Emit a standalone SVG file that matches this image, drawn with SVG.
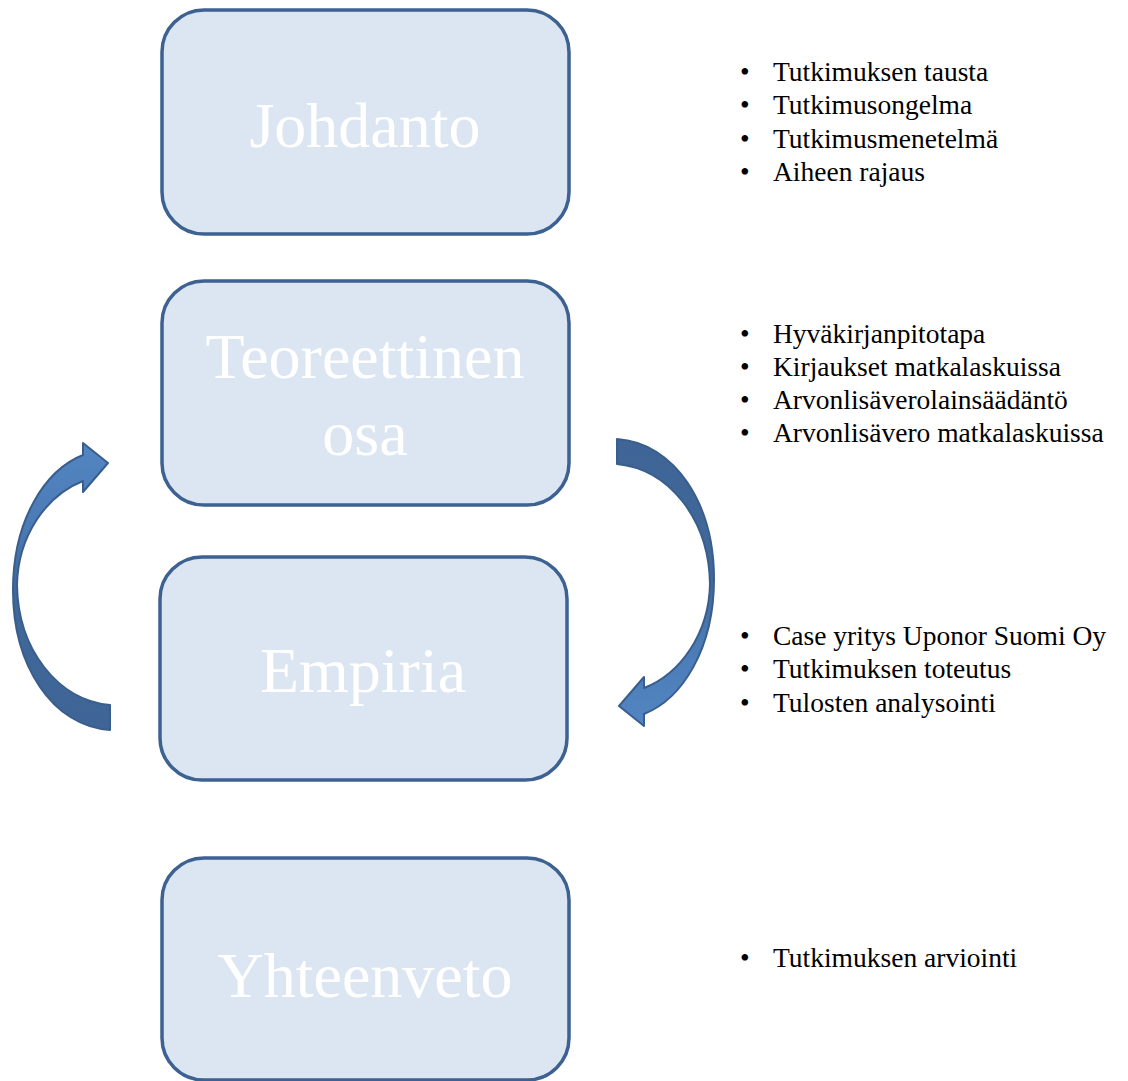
<svg xmlns="http://www.w3.org/2000/svg" width="1128" height="1081" viewBox="0 0 1128 1081">
<defs>
<style>
.box rect{fill:#dce6f2;stroke:#3d6191;stroke-width:3.5}
.title{font-family:"Liberation Serif","Times New Roman",serif;font-size:64px;fill:#ffffff;text-anchor:middle}
.bul{font-family:"Liberation Serif","Times New Roman",serif;font-size:27.5px;fill:#000000}
.arrow{fill:url(#ag);stroke:#3a5e8c;stroke-width:2;stroke-linejoin:round}
</style>
<linearGradient id="ag" x1="0" y1="443" x2="0" y2="730" gradientUnits="userSpaceOnUse">
<stop offset="0" stop-color="#5285c2"/>
<stop offset="0.3" stop-color="#4b7bb5"/>
<stop offset="0.5" stop-color="#40689a"/>
<stop offset="1" stop-color="#3e6596"/>
</linearGradient>
<path id="carrow" d="M110,730 C52,726 13,665 13,590 C13,520 45,470 83,455 L83,443 L108,463 L83,492 L83,481 C47,495 18,535 17,585 C18,650 58,700 110,705 Z"/>
</defs>
<rect width="1128" height="1081" fill="#ffffff"/>
<g id="connectors">
<use href="#carrow" class="arrow"/>
<use href="#carrow" class="arrow" transform="rotate(180 363.5 584.5)"/>
</g>
<g id="johdanto" class="box">
<rect x="162" y="10" width="407" height="224" rx="42"/>
<text class="title" x="365" y="147">Johdanto</text>
</g>
<g id="teoreettinen" class="box">
<rect x="162" y="281" width="407" height="224" rx="42"/>
<text class="title" x="365" y="378">Teoreettinen</text>
<text class="title" x="365" y="455">osa</text>
</g>
<g id="empiria" class="box">
<rect x="160" y="557" width="407" height="223" rx="42"/>
<text class="title" x="363" y="692">Empiria</text>
</g>
<g id="yhteenveto" class="box">
<rect x="162" y="858" width="407" height="222" rx="42"/>
<text class="title" x="365" y="997">Yhteenveto</text>
</g>
<g id="list1" class="bul">
<text x="740" y="81">•</text><text x="773" y="81">Tutkimuksen tausta</text>
<text x="740" y="114">•</text><text x="773" y="114">Tutkimusongelma</text>
<text x="740" y="148">•</text><text x="773" y="148">Tutkimusmenetelmä</text>
<text x="740" y="181">•</text><text x="773" y="181">Aiheen rajaus</text>
</g>
<g id="list2" class="bul">
<text x="740" y="343">•</text><text x="773" y="343">Hyväkirjanpitotapa</text>
<text x="740" y="376">•</text><text x="773" y="376">Kirjaukset matkalaskuissa</text>
<text x="740" y="409">•</text><text x="773" y="409">Arvonlisäverolainsäädäntö</text>
<text x="740" y="442">•</text><text x="773" y="442">Arvonlisävero matkalaskuissa</text>
</g>
<g id="list3" class="bul">
<text x="740" y="645">•</text><text x="773" y="645">Case yritys Uponor Suomi Oy</text>
<text x="740" y="678">•</text><text x="773" y="678">Tutkimuksen toteutus</text>
<text x="740" y="712">•</text><text x="773" y="712">Tulosten analysointi</text>
</g>
<g id="list4" class="bul">
<text x="740" y="967">•</text><text x="773" y="967">Tutkimuksen arviointi</text>
</g>
</svg>
